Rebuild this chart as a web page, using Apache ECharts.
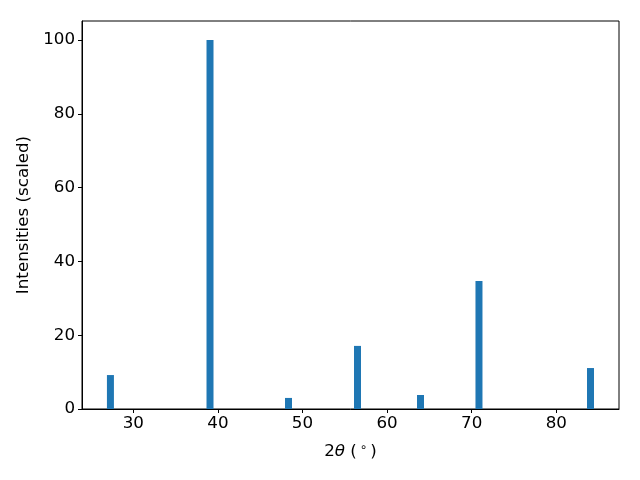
<!DOCTYPE html>
<html>
<head>
<meta charset="utf-8">
<script src="https://cdn.jsdelivr.net/npm/echarts@6/dist/echarts.min.js"></script>
<style>html,body{margin:0;padding:0;background:#fff}#c{width:640px;height:480px}</style>
</head>
<body>
<div id="c"></div>
<script>
const positions = [27.3, 39.07, 48.35, 56.5, 63.95, 70.86, 84.04];
const intensities = [9.2, 100, 3.0, 17.1, 3.8, 34.7, 11.1];
const xTicks = [30, 40, 50, 60, 70, 80];
const yTicks = [0, 20, 40, 60, 80, 100];

const chart = echarts.init(document.getElementById('c'), null, {renderer: 'canvas'});
const font = 'DejaVu Sans';
const fs = 16.7;
chart.setOption({
  animation: false,
  backgroundColor: '#fff',
  grid: {left: 82, right: 21, top: 21, bottom: 71, show: true, borderColor: '#000', borderWidth: 1, backgroundColor: 'transparent'},
  xAxis: {
    type: 'value', min: 23.94, max: 87.41,
    name: '2{i|θ} ({s|∘})',
    nameLocation: 'middle', nameGap: 33,
    nameTextStyle: {fontFamily: font, fontSize: fs, color: '#000',
      rich: {i: {fontFamily: font, fontStyle: 'italic', fontSize: fs, color: '#000'},
             s: {fontFamily: font, fontSize: 12, color: '#000', verticalAlign: 'top', padding: [0,3,7,3]}}},
    axisLine: {show: true, lineStyle: {color: '#000', width: 1}},
    axisTick: {show: true, length: 4, customValues: xTicks, lineStyle: {color: '#000'}},
    axisLabel: {customValues: xTicks, fontFamily: font, fontSize: fs, color: '#000', margin: 6},
    splitLine: {show: false}
  },
  yAxis: {
    type: 'value', min: 0, max: 105.15,
    name: 'Intensities (scaled)',
    nameLocation: 'middle', nameGap: 48,
    nameTextStyle: {fontFamily: font, fontSize: fs, color: '#000'},
    axisLine: {show: true, lineStyle: {color: '#000', width: 1}},
    axisTick: {show: true, length: 4, customValues: yTicks, lineStyle: {color: '#000'}},
    axisLabel: {customValues: yTicks, fontFamily: font, fontSize: fs, color: '#000', margin: 7},
    splitLine: {show: false}
  },
  series: [{
    type: 'bar',
    data: positions.map((p, i) => [p, intensities[i]]),
    barWidth: 7,
    itemStyle: {color: '#1f77b4'}
  }]
});
</script>
</body>
</html>
